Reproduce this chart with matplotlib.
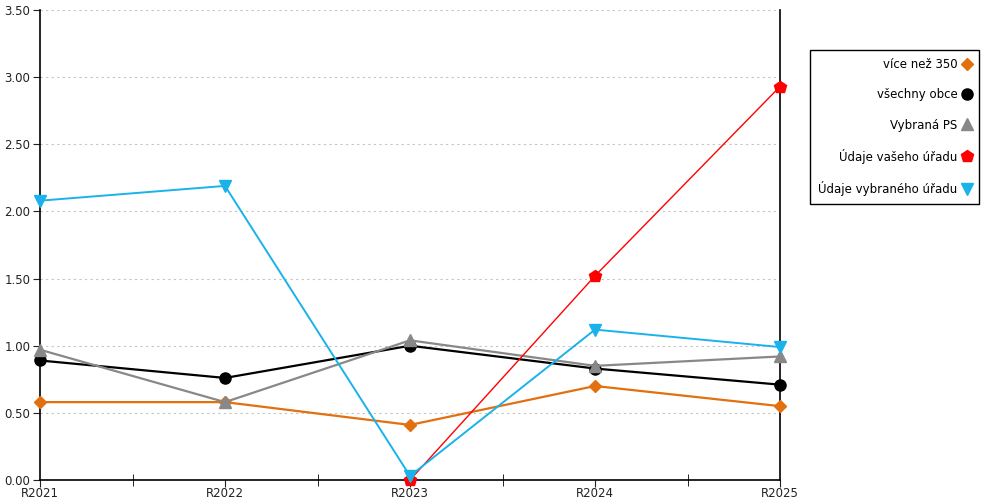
import matplotlib
matplotlib.use("Agg")
import matplotlib.pyplot as plt
import numpy as np
from matplotlib.ticker import FormatStrFormatter, MultipleLocator

roky = ["R2021", "R2022", "R2023", "R2024", "R2025"]

vice_nez_350 = [0.58, 0.58, 0.41, 0.70, 0.55]
vsechny_obce = [0.89, 0.76, 1.00, 0.83, 0.71]
vybrana_ps = [0.97, 0.58, 1.04, 0.85, 0.92]
vas_urad = [np.nan, np.nan, 0.00, 1.52, 2.93]
vybrany_urad = [2.08, 2.19, 0.03, 1.12, 0.99]

x = np.arange(len(roky))

fig = plt.figure(figsize=(10, 5), dpi=100)
ax = fig.add_axes([0.04, 0.04, 0.74, 0.94])
ax.set_axisbelow(True)

h1, = ax.plot(x, vice_nez_350, color='#e2700f', lw=1.6, marker='D', ms=6, label='více než 350', clip_on=False, zorder=3)
h2, = ax.plot(x, vsechny_obce, color='#000000', lw=1.6, marker='o', ms=8, label='všechny obce', clip_on=False, zorder=3)
h3, = ax.plot(x, vybrana_ps, color='#888888', lw=1.6, marker='^', ms=9, label='Vybraná PS', clip_on=False, zorder=3)
h4, = ax.plot(x, vas_urad, color='#ff0000', lw=1.0, marker='p', ms=9, label='Údaje vašeho úřadu', clip_on=False, zorder=3)
h5, = ax.plot(x, vybrany_urad, color='#1ab2ea', lw=1.4, marker='v', ms=9, label='Údaje vybraného úřadu', clip_on=False, zorder=3)

ax.set_xlim(0, len(roky) - 1)
ax.set_ylim(0, 3.5)
ax.set_xticks(x)
ax.set_xticklabels(roky)
ax.set_xticks(x[:-1] + 0.5, minor=True)
ax.yaxis.set_major_locator(MultipleLocator(0.5))
ax.yaxis.set_major_formatter(FormatStrFormatter('%.2f'))
ax.tick_params(axis='both', labelsize=8.5, colors='#222222')
ax.tick_params(axis='x', which='major', direction='out', length=5, pad=0)
ax.tick_params(axis='x', which='minor', direction='inout', length=9)
ax.tick_params(axis='y', direction='out', length=5, pad=2)

ax.grid(axis='y', color='#c4c4c4', linestyle=(0, (2, 3)), lw=0.8)
ax.spines['top'].set_visible(False)
for s in ['left', 'right', 'bottom']:
    ax.spines[s].set_color('black')
    ax.spines[s].set_linewidth(1.2)

leg = ax.legend(handles=[h1, h2, h3, h4, h5], loc='upper left',
                bbox_to_anchor=(0.81, 0.90), bbox_transform=fig.transFigure,
                borderaxespad=0, markerfirst=False, fancybox=False, edgecolor='black',
                fontsize=8.5, labelspacing=1.45, handlelength=0.6,
                handletextpad=0.5, borderpad=0.7, framealpha=1)
for line in leg.get_lines():
    line.set_linestyle('none')
leg.get_frame().set_linewidth(1)

fig.savefig("out.png", dpi=100)
